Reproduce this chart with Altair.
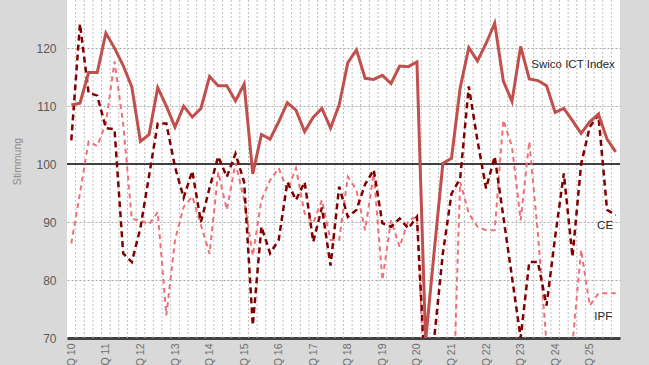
import altair as alt
import pandas as pd

# ---------------- data ----------------
YEAR_LABELS = ["Q 10", "Q 11", "Q 12", "Q 13", "Q 14", "Q 15", "Q 16", "Q 17",
               "Q 18", "Q 19", "Q 20", "Q 21", "Q 22", "Q 23", "Q 24", "Q 25"]

SWICO = [110.2, 110.5, 115.8, 115.8, 122.6, 120.0, 117.0, 113.3,
         103.9, 105.1, 113.2, 110.0, 106.4, 110.0, 108.1, 109.6,
         115.1, 113.5, 113.5, 110.9, 113.8, 98.3, 105.1, 104.3,
         107.3, 110.6, 109.3, 105.6, 108.1, 109.6, 106.2, 110.2,
         117.5, 119.7, 114.8, 114.6, 115.3, 113.9, 116.9, 116.8,
         117.6, 69.5, 85.0, 100.1, 101.0, 113.1, 120.1, 117.8,
         120.8, 124.3, 114.3, 110.8, 120.3, 114.7, 114.4, 113.5,
         108.9, 109.6, 107.5, 105.3, 107.3, 108.6, 104.3, 102.1]

CE = [104.1, 124.2, 112.3, 111.8, 106.2, 106.0, 84.6, 83.1,
      89.0, 98.0, 107.0, 107.0, 99.5, 94.2, 98.8, 90.0,
      95.9, 101.3, 97.8, 101.8, 96.9, 72.2, 89.2, 84.6,
      86.9, 96.9, 93.8, 96.9, 86.6, 92.5, 82.5, 96.1,
      90.9, 92.1, 96.5, 99.0, 89.8, 89.2, 90.6, 88.9,
      90.9, 62.0, 70.0, 84.6, 94.9, 97.5, 113.4, 104.1,
      95.8, 101.3, 90.9, 80.5, 70.0, 83.1, 83.1, 75.6,
      87.5, 98.4, 84.0, 100.0, 106.4, 108.5, 92.1, 91.2]

IPF = [86.3, 95.0, 103.9, 103.1, 107.0, 117.7, 107.0, 90.5,
       90.3, 89.6, 91.7, 73.9, 86.9, 92.6, 94.4, 89.5,
       84.5, 98.6, 92.1, 100.2, 93.8, 84.2, 93.8, 97.2,
       99.3, 95.5, 99.3, 91.5, 89.8, 93.8, 86.9, 86.9,
       97.8, 95.5, 88.6, 98.4, 80.0, 90.3, 85.7, 90.3,
       90.9, 58.0, 55.0, 52.0, 50.0, 96.9, 91.5, 89.2,
       88.6, 88.6, 107.6, 103.0, 90.3, 103.9, 88.0, 69.0,
       60.0, 60.0, 69.0, 85.2, 75.6, 77.7, 77.7, 77.7]

SERIES_NAMES = ["Swico ICT Index", "CE", "IPF"]
REFERENCE_LEVEL = [100]

# annotation anchors (data units: quarter index, index value)
NOTE_X = [62.9, 62.7, 62.6]
NOTE_Y = [117.1, 89.3, 73.6]

# ---------------- tables ----------------
n = len(SWICO)
df = pd.DataFrame({"idx": list(range(n)), "swico": SWICO, "ce": CE, "ipf": IPF})
bounds = pd.DataFrame({"b": [i + 0.5 for i in range(n - 1)]})
ref = pd.DataFrame({"v": REFERENCE_LEVEL})
notes = pd.DataFrame({"t": SERIES_NAMES, "x": NOTE_X, "y": NOTE_Y})

FONT = "Liberation Sans"
xscale = alt.Scale(domain=[-0.5, n - 0.5], nice=False, zero=False)
yscale = alt.Scale(domain=[70, 128.3], nice=False, zero=False)

label_expr = "[" + ",".join("'%s'" % s for s in YEAR_LABELS) + "][round(datum.value / 4)]"

x_axis = alt.Axis(values=list(range(0, n, 4)), labelExpr=label_expr, labelAngle=-90,
                  grid=False, ticks=False, domainColor="#404040", domainWidth=3,
                  labelColor="#6e6e6e", labelFontSize=10.5, labelFont=FONT,
                  labelPadding=5, title=None)
y_axis = alt.Axis(values=[70, 80, 90, 100, 110, 120], grid=True, gridColor="#a6a6a6",
                  gridDash=[2, 2], gridWidth=1, domain=False, ticks=False,
                  labelColor="#595959", labelFontSize=12, labelFont=FONT, labelPadding=11,
                  title="Stimmung", titleColor="#8c8c8c", titleFontSize=10.5,
                  titleFont=FONT, titleFontWeight="normal",
                  titleX=-50, titleY=161, titleAlign="center", titleBaseline="middle")

X = alt.X("idx:Q", scale=xscale, axis=x_axis)

vgrid = alt.Chart(bounds).mark_rule(color="#bdbdbd", strokeDash=[2, 2], strokeWidth=1).encode(
    x=alt.X("b:Q", scale=xscale, axis=x_axis)
)

hundred = alt.Chart(ref).mark_rule(color="#404040", strokeWidth=2).encode(
    y=alt.Y("v:Q", scale=yscale, axis=y_axis)
)

ipf_line = alt.Chart(df).mark_line(color="#f0707a", strokeWidth=2, strokeDash=[5, 4], clip=True).encode(
    x=X, y=alt.Y("ipf:Q", scale=yscale, axis=y_axis)
)
ce_line = alt.Chart(df).mark_line(color="#800000", strokeWidth=2.5, strokeDash=[6, 4], clip=True).encode(
    x=X, y=alt.Y("ce:Q", scale=yscale, axis=y_axis)
)
swico_line = alt.Chart(df).mark_line(color="#c0504d", strokeWidth=3, clip=True).encode(
    x=X, y=alt.Y("swico:Q", scale=yscale, axis=y_axis)
)

text = alt.Chart(notes).mark_text(align="right", baseline="middle", font=FONT,
                                  fontSize=11.5, color="#262626").encode(
    x=alt.X("x:Q", scale=xscale, axis=x_axis),
    y=alt.Y("y:Q", scale=yscale, axis=y_axis),
    text="t:N",
)

chart = alt.layer(vgrid, hundred, ipf_line, ce_line, swico_line, text).properties(
    width=553, height=338,
    autosize=alt.AutoSizeParams(type="none"),
    padding={"left": 67, "top": 0, "right": 29, "bottom": 27},
    background="#d9d9d9",
).configure_view(fill="white", strokeWidth=0)

chart.save("out.html", embed_options={"renderer": "svg", "actions": False})
